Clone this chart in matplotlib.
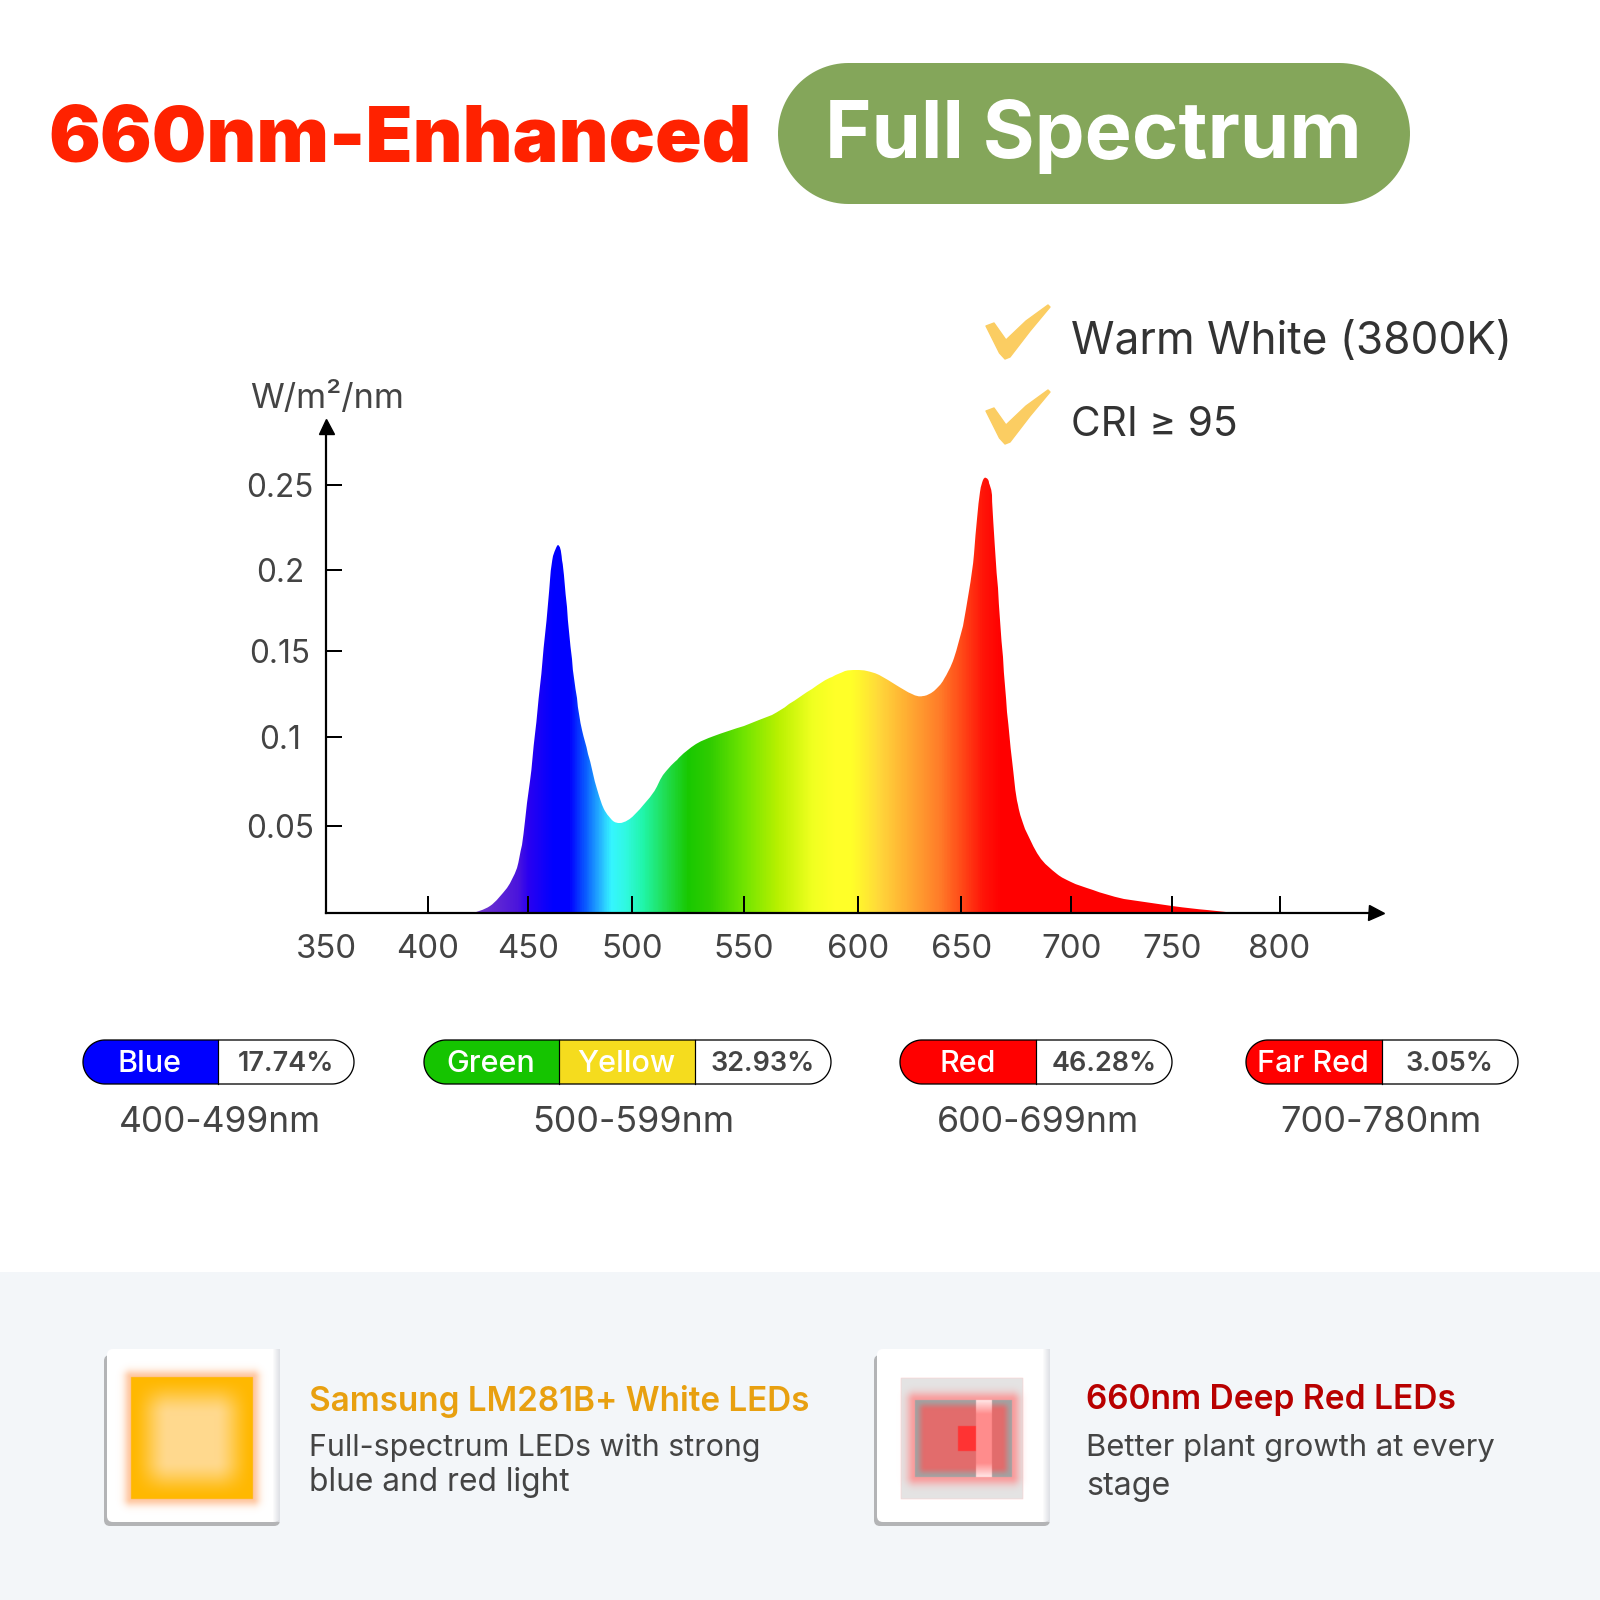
import numpy as np
import matplotlib
matplotlib.use('Agg')
import matplotlib.pyplot as plt
from matplotlib.colors import LinearSegmentedColormap
from matplotlib.patches import FancyBboxPatch, PathPatch, Polygon, Rectangle
from matplotlib.path import Path

plt.rcParams['font.family'] = ['Inter', 'DejaVu Sans']

# spectrum
WAVELENGTH = [422.7, 431.1, 439.5, 444.5, 447.0, 448.7, 451.1, 453.5, 455.9, 458.3, 460.7, 462.3,
              464.6, 466.6, 468.7, 471.1, 473.5, 475.9, 479.1, 483.1, 487.1, 491.1, 494.2, 498.2,
              503.6, 509.5, 513.9, 519.9, 528.8, 536.7, 550.0, 562.1, 569.9, 579.7, 588.5, 594.3,
              599.2, 604.5, 610.9, 618.5, 626.0, 631.3, 636.7, 641.6, 646.4, 650.6, 653.7, 655.7,
              657.1, 658.7, 660.0, 661.4, 662.8, 663.8, 664.8, 666.5, 668.9, 670.9, 673.0, 675.6,
              679.1, 685.2, 693.3, 700.0, 710.5, 726.1, 750.0, 766.0, 781.0]
IRRADIANCE = [0.0, 0.0041, 0.0143, 0.0257, 0.0393, 0.0529, 0.0751, 0.1018, 0.1294, 0.1598, 0.1939, 0.2081,
              0.2144, 0.2058, 0.1768, 0.1454, 0.1225, 0.1041, 0.0907, 0.0707, 0.0584, 0.0529, 0.0518, 0.0533,
              0.0596, 0.0684, 0.0784, 0.0873, 0.0962, 0.1006, 0.1066, 0.1130, 0.1190, 0.1280, 0.1350, 0.1380,
              0.1388, 0.1380, 0.1355, 0.1301, 0.1251, 0.1235, 0.1265, 0.1335, 0.1460, 0.1653, 0.1866, 0.2095,
              0.2298, 0.2460, 0.2525, 0.2540, 0.2510, 0.2440, 0.2217, 0.1887, 0.1464, 0.1146, 0.0871, 0.0620,
              0.0484, 0.0326, 0.0227, 0.0178, 0.0132, 0.0083, 0.0040, 0.0016, 0.0]

X_TICKS = [350, 400, 450, 500, 550, 600, 650, 700, 750, 800]
Y_TICKS = [0.05, 0.1, 0.15, 0.2, 0.25]
Y_TICK_LABELS = ['0.05', '0.1', '0.15', '0.2', '0.25']

PILL_NAMES = [['Blue'], ['Green', 'Yellow'], ['Red'], ['Far Red']]
PILL_PERCENT = ['17.74%', '32.93%', '46.28%', '3.05%']
PILL_RANGE = ['400-499nm', '500-599nm', '600-699nm', '700-780nm']

# gradient under the curve
GRAD_NM = [420, 445, 450, 462, 470, 478, 485, 490, 497, 505, 515, 525, 535, 550, 565, 580, 590, 597,
           610, 628, 640, 650, 660, 668, 790]
GRAD_COLORS = ['#7a40c8', '#4a14dc', '#2a00f0', '#0000ff', '#0000ff', '#0a60ff', '#26b8ff', '#35f5ff',
               '#30f8e0', '#20f5a8', '#20dc50', '#18c800', '#30cc00', '#70e400', '#b8f000', '#f0ff20',
               '#ffff28', '#ffff28', '#ffd83a', '#ffa030', '#ff7a28', '#ff4a18', '#ff1408', '#ff0000',
               '#ff0000']

# the axes in the picture are not evenly spaced, so each tick has its own pixel
X_SCALE_NM = [350, 400, 450, 500, 550, 600, 650, 700, 750, 800, 845]
X_SCALE_PX = [326, 428, 527.7, 632, 743.9, 858.2, 961.2, 1071.4, 1172.4, 1279.6, 1376]
Y_SCALE_VAL = [0, 0.05, 0.1, 0.15, 0.2, 0.25, 0.2845]
Y_SCALE_PX = [913, 826, 737, 650.7, 569.7, 484.7, 426]

PX = 72 / 100  # points per pixel at dpi 100
GREY = '#444444'
DARK = '#333333'


def text_fit(ax, x, y, s, width, ha='left', **kw):
    # font size chosen so the text is as wide as in the reference
    t = ax.text(x, y, s, ha=ha, va='center', fontsize=20, **kw)
    r = ax.figure.canvas.get_renderer()
    w = t.get_window_extent(r).width
    t.set_fontsize(20 * width / w)
    return t


def pill_points(x0, y0, x1, y1):
    r = (y1 - y0) / 2
    a = np.linspace(-np.pi / 2, np.pi / 2, 60)
    right = np.column_stack([x1 - r + r * np.cos(a), (y0 + y1) / 2 + r * np.sin(a)])
    left = np.column_stack([x0 + r - r * np.cos(a[::-1]), (y0 + y1) / 2 + r * np.sin(a[::-1])])
    return np.vstack([right, left])


def smooth_outline(xs, ys):
    # catmull-rom through the read points, closed along the baseline
    pts = np.column_stack([xs, ys])
    verts = [pts[0]]
    codes = [Path.MOVETO]
    for i in range(len(pts) - 1):
        p0 = pts[max(i - 1, 0)]
        p1 = pts[i]
        p2 = pts[i + 1]
        p3 = pts[min(i + 2, len(pts) - 1)]
        verts += [p1 + (p2 - p0) / 6, p2 - (p3 - p1) / 6, p2]
        codes += [Path.CURVE4] * 3
    verts += [pts[0], pts[0]]
    codes += [Path.LINETO, Path.CLOSEPOLY]
    return Path(np.array(verts), codes)


def rect_dist(xx, yy, x0, y0, x1, y1):
    # signed distance to a rectangle, positive outside
    dx = np.maximum(x0 - xx, xx - x1)
    dy = np.maximum(y0 - yy, yy - y1)
    out = np.hypot(np.maximum(dx, 0), np.maximum(dy, 0))
    return out + np.minimum(np.maximum(dx, dy), 0)


def soft_inside(xx, yy, x0, y0, x1, y1, w):
    # 0 at the rectangle edge, 1 further than w inside, no mitred corners
    tx = np.clip(np.minimum(xx - x0, x1 - xx) / w, 0, 1)
    ty = np.clip(np.minimum(yy - y0, y1 - yy) / w, 0, 1)
    tx = tx * tx * (3 - 2 * tx)
    ty = ty * ty * (3 - 2 * ty)
    return tx * ty


def hex_rgb(c):
    return np.array(matplotlib.colors.to_rgb(c))


def paint(img, col, alpha):
    # alpha blend a colour on an RGBA image
    a = alpha[..., None]
    bottom = img[..., 3:] * (1 - a)
    out = a + bottom
    rgb = (hex_rgb(col) * a + img[..., :3] * bottom) / np.maximum(out, 1e-6)
    img[..., :3] = rgb
    img[..., 3:] = out


def blank(xx):
    img = np.ones(xx.shape + (4,))
    img[..., 3] = 0
    return img


def draw_card(ax, x0, y0, x1, y1):
    ax.add_patch(FancyBboxPatch((x0, y0 + 6), x1 - x0, y1 - y0 - 6, boxstyle='round,pad=0,rounding_size=6',
                                fc='#b3b4b6', ec='none', zorder=2))
    ax.add_patch(FancyBboxPatch((x0 + 3, y0), x1 - x0 - 3, y1 - y0 - 4, boxstyle='round,pad=0,rounding_size=6',
                                fc='white', ec='none', zorder=3))
    shade = np.zeros((1, 8, 4))
    shade[..., :3] = hex_rgb('#dfe1e6')
    shade[..., 3] = np.linspace(0, 1, 8)
    ax.imshow(shade, extent=(x1 - 8, x1, y1 - 4, y0), aspect='auto', zorder=3.5)


def orange_led(ax):
    x0, x1, y0, y1 = 106, 280, 1349, 1522
    xx, yy = np.meshgrid(np.arange(x0, x1, 0.5) + 0.25, np.arange(y0, y1, 0.5) + 0.25)
    box = (131, 1377, 253, 1499)
    d = rect_dist(xx, yy, *box)
    img = blank(xx)
    paint(img, '#ff9a55', 0.55 * np.where(d > 0, np.exp(-(d / 7) ** 2), 0))
    paint(img, '#ffb800', (d <= 0).astype(float))
    paint(img, '#ffd98e', soft_inside(xx, yy, *box, 38))
    ax.imshow(img, extent=(x0, x1, y1, y0), aspect='auto', zorder=4, interpolation='bilinear')


def red_led(ax):
    x0, x1, y0, y1 = 876, 1050, 1349, 1522
    xx, yy = np.meshgrid(np.arange(x0, x1, 0.5) + 0.25, np.arange(y0, y1, 0.5) + 0.25)
    img = blank(xx)
    outer = (rect_dist(xx, yy, 901, 1378, 1023, 1499) <= 0).astype(float)
    paint(img, '#e4e4e4', outer)
    box = (915, 1400, 1012, 1477)
    d = rect_dist(xx, yy, *box)
    paint(img, '#ff8a8a', 0.8 * np.where(d > 0, np.exp(-(d / 8) ** 2), 0))
    paint(img, '#a2a2a2', (d <= 0).astype(float))
    paint(img, '#e26c6c', soft_inside(xx, yy, *box, 10))
    paint(img, '#ff3333', (rect_dist(xx, yy, 958, 1426, 976, 1451) <= 0).astype(float))
    strip = (rect_dist(xx, yy, 976, 1400, 992, 1477) <= 0).astype(float)
    paint(img, '#ff8c8c', strip)
    ends = np.clip(1 - np.minimum(np.abs(yy - 1400), np.abs(yy - 1477)) / 14, 0, 1)
    paint(img, '#ffe8e8', strip * ends)
    ax.imshow(img, extent=(x0, x1, y1, y0), aspect='auto', zorder=4, interpolation='bilinear')


fig = plt.figure(figsize=(16, 16), dpi=100, facecolor='white')
fig.canvas.draw()

# whole-page layer in pixels for everything round the chart
bg = fig.add_axes([0, 0, 1, 1], zorder=0)
bg.set_xlim(0, 1600)
bg.set_ylim(1600, 0)
bg.axis('off')

# title
text_fit(bg, 48, 141, '660nm-Enhanced', 704, color='#ff2200', fontweight='black')
bg.add_patch(Polygon(pill_points(778, 63, 1410, 204), closed=True, fc='#84a65a', ec='none'))
text_fit(bg, 825, 137, 'Full Spectrum', 538, color='white', fontweight='bold')

# check marks and notes
CHECK_X = [986, 994, 1006, 1026, 1048, 1050, 1030, 1010, 1005, 999.5]
CHECK_Y = [326, 323, 340, 321, 305, 307, 331, 357, 359, 353]
for dy in [0, 85]:
    bg.add_patch(Polygon(np.column_stack([CHECK_X, np.array(CHECK_Y) + dy]), closed=True, fc='#fbcd62', ec='#fbcd62',
                         lw=1, joinstyle='round'))
text_fit(bg, 1071, 342, 'Warm White (3800K)', 441, color=DARK)
text_fit(bg, 1071, 425, 'CRI ≥ 95', 167, color=DARK)

text_fit(bg, 327, 398, 'W/m²/nm', 154, ha='center', color=GREY)

# legend pills
PILL_X = [(83, 354), (424, 831), (900, 1172), (1246, 1518)]
PILL_DIV = [[218], [559, 695], [1036], [1382]]
PILL_FILL = [['#0000ff'], ['#15c400', '#f5dc1e'], ['#ff0000'], ['#ff0000']]
PILL_NAME_X = [[150], [491, 626], [968], [1313]]
PILL_PCT_X = [285.5, 763, 1104, 1449]
PILL_RANGE_X = [219.5, 633, 1038, 1381]
for i in range(4):
    x0, x1 = PILL_X[i]
    y0, y1 = 1040, 1084
    shape = Polygon(pill_points(x0, y0, x1, y1), closed=True, fc='white', ec='none', zorder=1)
    bg.add_patch(shape)
    left = x0
    for right, col in zip(PILL_DIV[i], PILL_FILL[i]):
        seg = Rectangle((left, y0), right - left, y1 - y0, fc=col, ec='none', zorder=1.1)
        bg.add_patch(seg)
        seg.set_clip_path(shape)
        bg.plot([right, right], [y0, y1], color='black', lw=1.2 * PX, zorder=1.2)
        left = right
    bg.add_patch(Polygon(pill_points(x0, y0, x1, y1), closed=True, fc='none', ec='black', lw=1.3 * PX, zorder=1.3))
    for name, nx in zip(PILL_NAMES[i], PILL_NAME_X[i]):
        bg.text(nx, 1064, name, color='white', fontsize=30.5 * PX, fontweight='medium', ha='center', va='center', zorder=2)
    bg.text(PILL_PCT_X[i], 1064, PILL_PERCENT[i], color=GREY, fontsize=27 * PX, fontweight='semibold',
            ha='center', va='center', zorder=2)
    text_fit(bg, PILL_RANGE_X[i], 1122.5, PILL_RANGE[i], 202, ha='center', color=GREY)

# bottom panel
bg.add_patch(Rectangle((0, 1272), 1600, 328, fc='#f3f6f9', ec='none', zorder=1))
draw_card(bg, 104, 1349, 280, 1526)
draw_card(bg, 874, 1349, 1050, 1526)
orange_led(bg)
red_led(bg)
bg.set_xlim(0, 1600)
bg.set_ylim(1600, 0)

text_fit(bg, 309, 1401, 'Samsung LM281B+ White LEDs', 501, color='#e8a010', fontweight='semibold')
text_fit(bg, 309, 1448, 'Full-spectrum LEDs with strong', 452, color=GREY)
text_fit(bg, 309, 1482, 'blue and red light', 260, color=GREY)
text_fit(bg, 1086, 1400, '660nm Deep Red LEDs', 370, color='#b80000', fontweight='semibold')
text_fit(bg, 1086, 1448, 'Better plant growth at every', 409, color=GREY)
text_fit(bg, 1086, 1486, 'stage', 84, color=GREY)

# chart
ax = fig.add_axes([326 / 1600, 1 - 913 / 1600, (1376 - 326) / 1600, (913 - 426) / 1600], zorder=1)
ax.patch.set_alpha(0)
ax.set_xscale('function', functions=(lambda v: np.interp(v, X_SCALE_NM, X_SCALE_PX),
                                     lambda v: np.interp(v, X_SCALE_PX, X_SCALE_NM)))
neg_px = [-p for p in Y_SCALE_PX]
ax.set_yscale('function', functions=(lambda v: np.interp(v, Y_SCALE_VAL, neg_px),
                                     lambda v: np.interp(v, neg_px, Y_SCALE_VAL)))
ax.set_xlim(350, 845)
ax.set_ylim(0, 0.2845)

spec = LinearSegmentedColormap.from_list(
    'spec', [((n - GRAD_NM[0]) / (GRAD_NM[-1] - GRAD_NM[0]), c) for n, c in zip(GRAD_NM, GRAD_COLORS)], N=1024)
edges = np.linspace(GRAD_NM[0], GRAD_NM[-1], 1481)
mesh = ax.pcolormesh(edges, [0, 0.27], ((edges[:-1] + edges[1:]) / 2).reshape(1, -1), cmap=spec,
                     vmin=GRAD_NM[0], vmax=GRAD_NM[-1], shading='flat', antialiased=False, zorder=1)
outline = PathPatch(smooth_outline(WAVELENGTH, IRRADIANCE), fc='none', ec='none')
ax.add_patch(outline)
mesh.set_clip_path(outline)

for side in ['top', 'right']:
    ax.spines[side].set_visible(False)
for side in ['left', 'bottom']:
    ax.spines[side].set_linewidth(2.2 * PX)
ax.set_xticks(X_TICKS)
ax.set_xticklabels([str(v) for v in X_TICKS])
ax.set_yticks(Y_TICKS)
ax.set_yticklabels(Y_TICK_LABELS)
ax.tick_params(axis='x', direction='in', length=17 * PX, width=2 * PX, pad=21 * PX, labelsize=33 * PX, labelcolor=GREY)
ax.tick_params(axis='y', direction='in', length=16 * PX, width=2 * PX, pad=46 * PX, labelsize=31.5 * PX, labelcolor=GREY)
for lab in ax.get_yticklabels():
    lab.set_ha('center')
ax.plot(1, 0, marker='>', ms=15 * PX, color='black', transform=ax.transAxes, clip_on=False, zorder=5)
ax.plot(0, 1, marker='^', ms=15 * PX, color='black', transform=ax.transAxes, clip_on=False, zorder=5)

fig.savefig('out.png', dpi=100)
